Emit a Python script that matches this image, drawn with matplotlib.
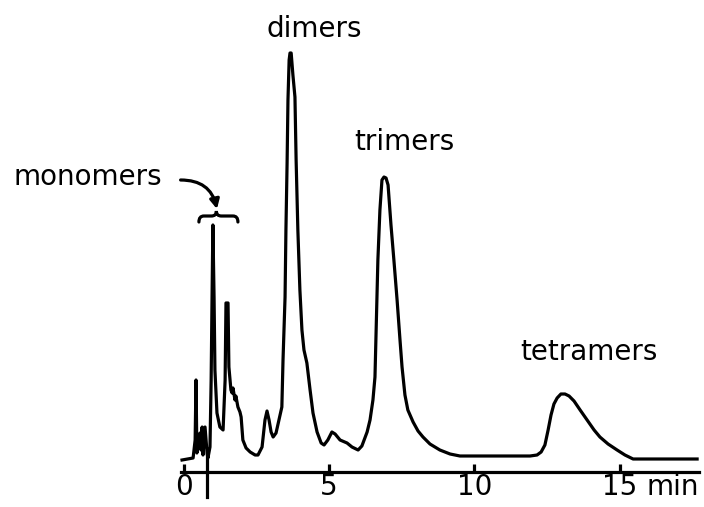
import numpy as np
import matplotlib
matplotlib.use("Agg")
import matplotlib.pyplot as plt
from matplotlib.path import Path
from matplotlib.patches import PathPatch

# Trace (time in min, detector signal in arbitrary units)
time_min = [
    -0.05, 0.33, 0.40, 0.43, 0.46, 0.53, 0.57, 0.60, 0.64, 0.67, 0.74, 0.81, 0.84,
    0.91, 0.95, 0.98, 1.01, 1.05, 1.08, 1.15, 1.25, 1.36, 1.43, 1.46, 1.53, 1.56,
    1.63, 1.67, 1.70, 1.77, 1.80, 1.87, 1.94, 1.98, 2.04, 2.15, 2.29, 2.46, 2.56,
    2.70, 2.80, 2.87, 2.94, 3.01, 3.08, 3.18, 3.28, 3.38, 3.42, 3.49, 3.52, 3.56,
    3.59, 3.63, 3.66, 3.70, 3.76, 3.83, 3.87, 3.93, 4.00, 4.07, 4.14, 4.24, 4.35,
    4.45, 4.59, 4.73, 4.83, 4.96, 5.10, 5.21, 5.38, 5.62, 5.79, 6.00, 6.13, 6.31,
    6.41, 6.51, 6.58, 6.62, 6.68, 6.75, 6.82, 6.89, 6.96, 7.03, 7.13, 7.23, 7.34,
    7.44, 7.51, 7.61, 7.71, 7.89, 8.06, 8.23, 8.47, 8.81, 9.16, 9.50, 10.88, 11.91,
    12.15, 12.29, 12.42, 12.53, 12.63, 12.73, 12.84, 12.97, 13.11, 13.25, 13.42,
    13.63, 13.87, 14.11, 14.31, 14.59, 14.90, 15.17, 15.45, 16.03, 17.65,
]
signal = [
    12, 14, 32, 92, 19, 37, 39, 22, 45, 17, 45, 19, 14,
    25, 92, 172, 247, 175, 102, 59, 45, 42, 92, 169, 169, 105,
    82, 79, 84, 72, 76, 65, 60, 55, 32, 24, 20, 17, 17,
    25, 52, 61, 52, 40, 35, 39, 52, 65, 112, 175, 242, 309,
    372, 412, 419, 419, 397, 375, 312, 242, 182, 142, 122, 109, 82,
    59, 40, 29, 27, 32, 40, 38, 32, 29, 25, 22, 26, 40,
    52, 72, 95, 142, 212, 262, 292, 295, 294, 287, 247, 212, 172,
    132, 105, 77, 62, 50, 41, 35, 28, 22, 18, 16, 16, 16,
    17, 20, 27, 42, 57, 68, 74, 78, 78, 76, 71,
    62, 52, 42, 35, 28, 22, 17, 13, 13, 13,
]

tick_values = [0, 5, 10, 15]
tick_labels = ["0", "5", "10", "15"]
injection_time = 0.82

FS = 20
LW = 2.3

fig = plt.figure(figsize=(7.04, 5.07), dpi=100)
ax = fig.add_axes([0, 0, 1, 1])
ax.set_xlim(-6.306, 17.887)
ax.set_ylim(-35, 472)

ax.plot(time_min, signal, color="black", lw=LW, solid_joinstyle="round")

# axis: only the bottom spine, ticks pointing up
for side in ["left", "right", "top"]:
    ax.spines[side].set_visible(False)
ax.spines["bottom"].set_position(("data", 0))
ax.spines["bottom"].set_bounds(-0.08, 17.7)
ax.spines["bottom"].set_linewidth(LW)
ax.set_yticks([])
ax.set_xticks(tick_values)
ax.set_xticklabels(tick_labels)
ax.tick_params(axis="x", direction="in", length=6, width=LW, labelsize=FS, pad=1)
ax.text(15.9, -23, "min", fontsize=FS, ha="left", va="baseline")

# injection mark
ax.plot([injection_time, injection_time], [18, -25], color="black", lw=LW)

# peak labels
ax.text(4.48, 435, "dimers", fontsize=FS, ha="center", va="baseline")
ax.text(7.58, 322, "trimers", fontsize=FS, ha="center", va="baseline")
ax.text(13.92, 112, "tetramers", fontsize=FS, ha="center", va="baseline")
ax.text(-3.30, 287, "monomers", fontsize=FS, ha="center", va="baseline")

# brace over the monomer peaks
x0, x1, xc, q = 0.53, 1.87, 1.13, 0.17
y_end, y_mid, y_tip = 250, 256, 261
verts = [
    (x0, y_end), (x0, y_mid), (x0 + q, y_mid),
    (xc - q, y_mid), (xc, y_mid), (xc, y_tip),
    (xc, y_mid), (xc + q, y_mid),
    (x1 - q, y_mid), (x1, y_mid), (x1, y_end),
]
codes = [
    Path.MOVETO, Path.CURVE3, Path.CURVE3,
    Path.LINETO, Path.CURVE3, Path.CURVE3,
    Path.CURVE3, Path.CURVE3,
    Path.LINETO, Path.CURVE3, Path.CURVE3,
]
ax.add_patch(PathPatch(Path(verts, codes), fill=False, lw=LW, capstyle="round"))

# curved arrow to the brace
ax.annotate("", xy=(1.15, 263), xytext=(-0.1, 292),
            arrowprops=dict(arrowstyle="-|>,head_length=0.55,head_width=0.28",
                            connectionstyle="arc3,rad=-0.4",
                            color="black", lw=LW, shrinkA=0, shrinkB=0))

fig.savefig("out.png", dpi=100)
